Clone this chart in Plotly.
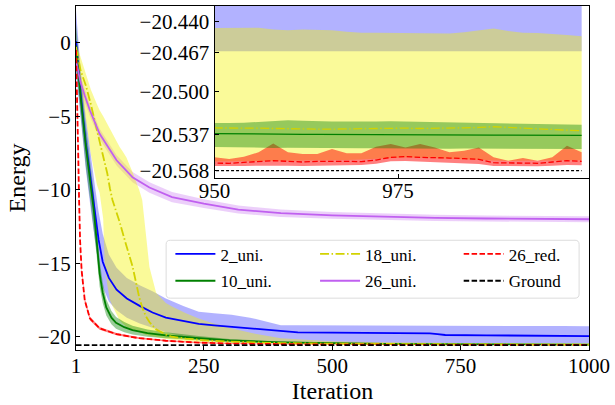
import plotly.graph_objects as go

# ---------------------------------------------------------------- data
GROUND = -20.568

# shared fine grid for the converged tail (shown in the zoomed panel)
TAIL = list(range(950, 1001, 2))

# 2_uni.
BLUE_IT = [1, 10, 20, 30, 38, 45, 53, 65, 80, 100, 125, 150, 176, 210, 240, 270, 304, 340, 370, 400,
           433, 500, 560, 620, 690, 705, 720, 800, 882, 950, 1000]
BLUE_MEAN = [0.1, -3.5, -6.8, -9.6, -11.6, -13.4, -14.9, -16.0, -16.8, -17.4, -17.9, -18.35, -18.7, -18.95,
             -19.12, -19.22, -19.32, -19.45, -19.55, -19.64, -19.70, -19.72, -19.73, -19.75, -19.77, -19.82,
             -19.88, -19.90, -19.91, -19.93, -19.96]
BLUE_HI = [2.2, -1.8, -5.0, -7.8, -9.8, -11.5, -13.0, -14.4, -15.3, -16.0, -16.5, -16.9, -17.4, -17.9, -18.3,
           -18.4, -18.5, -18.7, -18.95, -19.21, -19.22, -19.22, -19.23, -19.23, -19.24, -19.25, -19.25, -19.26,
           -19.27, -19.27, -19.28]
BLUE_LO = [-2.0, -5.2, -8.6, -11.4, -13.4, -15.2, -16.6, -17.6, -18.2, -18.7, -19.1, -19.4, -19.7, -20.0,
           -20.2, -20.3, -20.38, -20.41, -20.43, -20.44, -20.45, -20.455, -20.46, -20.462, -20.463, -20.464,
           -20.464, -20.465, -20.4655, -20.4656, -20.4658]

# 10_uni.
GREEN_IT = [1, 10, 20, 30, 36, 41, 47, 53, 60, 70, 79, 95, 111, 140, 176, 240, 300, 400, 500, 600, 700, 800, 900]
GREEN_MEAN = [-0.2, -3.7, -7.0, -9.8, -11.5, -13.4, -15.7, -17.0, -18.0, -18.7, -19.05, -19.35, -19.55, -19.75,
              -19.9, -20.1, -20.25, -20.38, -20.45, -20.49, -20.51, -20.525, -20.533]
GREEN_HI = [1.3, -2.3, -5.6, -8.5, -10.3, -12.4, -14.8, -16.3, -17.45, -18.25, -18.65, -19.0, -19.25, -19.5,
            -19.7, -19.95, -20.15, -20.32, -20.41, -20.46, -20.49, -20.51, -20.523]
GREEN_LO = [-1.7, -5.1, -8.4, -11.1, -12.7, -14.4, -16.6, -17.7, -18.55, -19.15, -19.45, -19.7, -19.85, -20.0,
            -20.1, -20.25, -20.35, -20.44, -20.49, -20.52, -20.53, -20.54, -20.543]
GREEN_MEAN_TAIL = [-20.5367, -20.5367, -20.5368, -20.5368, -20.5369, -20.5369, -20.5370, -20.5370, -20.5371,
                   -20.5371, -20.5372, -20.5372, -20.5373, -20.5373, -20.5374, -20.5374, -20.5375, -20.5375,
                   -20.5376, -20.5376, -20.5376, -20.5377, -20.5377, -20.5377, -20.5378, -20.5378]
GREEN_HI_TAIL = [-20.5276, -20.5273, -20.5270, -20.5262, -20.5250, -20.5248, -20.5252, -20.5257, -20.5259,
                 -20.5259, -20.5262, -20.5259, -20.5257, -20.5259, -20.5262, -20.5265, -20.5267, -20.5270,
                 -20.5273, -20.5273, -20.5276, -20.5279, -20.5282, -20.5282, -20.5285, -20.5287]
GREEN_LO_TAIL = [-20.5481, -20.5483, -20.5482, -20.5484, -20.5485, -20.5484, -20.5486, -20.5487, -20.5486,
                 -20.5488, -20.5489, -20.5488, -20.5490, -20.5489, -20.5490, -20.5491, -20.5492, -20.5491,
                 -20.5492, -20.5493, -20.5492, -20.5493, -20.5494, -20.5494, -20.5495, -20.5495]

# 18_uni.
YEL_IT = [1, 10, 20, 30, 42, 47, 54, 57, 62, 67, 72, 86, 92, 99, 111, 118, 124, 130, 137, 144,
          157, 176, 188, 215, 240, 260, 300, 350, 400, 500, 600, 700, 800, 900]
YEL_MEAN = [-0.3, -1.9, -2.9, -4.2, -6.0, -6.7, -7.8, -8.3, -8.9, -9.9, -10.7, -12.2, -13.0, -13.8, -15.2,
            -16.3, -17.3, -18.0, -18.6, -19.0, -19.5, -19.85, -20.0, -20.12, -20.2, -20.26, -20.33, -20.39,
            -20.43, -20.47, -20.5, -20.515, -20.525, -20.53]
YEL_HI = [0.0, -1.0, -2.0, -3.2, -4.2, -4.6, -5.0, -5.2, -5.5, -5.9, -6.2, -7.1, -7.4, -7.8, -8.8, -9.4,
          -10.0, -10.7, -13.0, -15.25, -17.0, -17.7, -17.95, -18.4, -18.75, -19.0, -19.4, -19.8, -20.1, -20.3,
          -20.38, -20.42, -20.44, -20.446]
YEL_LO = [-0.6, -2.8, -5.2, -7.6, -9.7, -10.2, -12.0, -15.2, -16.5, -17.5, -17.9, -18.9, -19.1, -19.3, -19.5,
          -19.6, -19.7, -19.78, -19.86, -19.93, -20.03, -20.15, -20.2, -20.3, -20.36, -20.39, -20.43, -20.46,
          -20.48, -20.51, -20.53, -20.545, -20.552, -20.556]
YEL_MEAN_TAIL = [-20.5310, -20.5310, -20.5313, -20.5316, -20.5319, -20.5322, -20.5324, -20.5324, -20.5324,
                 -20.5322, -20.5319, -20.5316, -20.5313, -20.5316, -20.5319, -20.5319, -20.5316, -20.5313,
                 -20.5310, -20.5304, -20.5310, -20.5316, -20.5322, -20.5327, -20.5333, -20.5339]
YEL_HI_TAIL = [-20.4457, -20.4451, -20.4457, -20.4457, -20.4471, -20.4477, -20.4471, -20.4471, -20.4477,
               -20.4491, -20.4500, -20.4500, -20.4500, -20.4500, -20.4502, -20.4505, -20.4505, -20.4494,
               -20.4480, -20.4463, -20.4485, -20.4500, -20.4502, -20.4508, -20.4519, -20.4528]
YEL_LO_TAIL = [-20.5602, -20.5603, -20.5600, -20.5598, -20.5597, -20.5596, -20.5596, -20.5594, -20.5590,
               -20.5588, -20.5584, -20.5578, -20.5570, -20.5568, -20.5570, -20.5574, -20.5580, -20.5584,
               -20.5590, -20.5596, -20.5598, -20.5596, -20.5597, -20.5594, -20.5590, -20.5592]

# 26_uni.
PUR_IT = [1, 5, 9, 18, 28, 47, 65, 80, 111, 144, 188, 250, 317, 400, 500, 600, 700, 800, 900, 1000]
PUR_MEAN = [-1.2, -1.9, -2.6, -3.6, -4.6, -6.2, -7.2, -8.0, -9.15, -9.85, -10.5, -10.95, -11.35, -11.6,
            -11.75, -11.85, -11.92, -11.96, -11.99, -12.01]
PUR_HI = [-0.7, -1.4, -2.1, -3.15, -4.2, -5.85, -6.85, -7.65, -8.8, -9.5, -10.15, -10.65, -11.08, -11.35,
          -11.52, -11.63, -11.71, -11.76, -11.79, -11.81]
PUR_LO = [-1.7, -2.4, -3.1, -4.05, -5.0, -6.55, -7.55, -8.35, -9.5, -10.2, -10.85, -11.25, -11.62, -11.85,
          -11.98, -12.07, -12.13, -12.16, -12.19, -12.21]

# 26_red.
RED_IT = [1, 3, 5, 7, 9, 12, 18, 28, 47, 80, 124, 176, 240, 300, 400, 500, 600, 700, 800, 900]
RED_MEAN = [-0.5, -3.0, -7.0, -10.7, -13.5, -15.5, -17.5, -18.75, -19.43, -19.82, -20.1, -20.27, -20.4, -20.46,
            -20.51, -20.535, -20.545, -20.552, -20.556, -20.559]
RED_HI = [-0.2, -2.7, -6.7, -10.4, -13.25, -15.3, -17.35, -18.63, -19.33, -19.74, -20.04, -20.22, -20.36,
          -20.43, -20.49, -20.525, -20.537, -20.546, -20.551, -20.554]
RED_LO = [-0.8, -3.3, -7.3, -11.0, -13.75, -15.7, -17.65, -18.87, -19.53, -19.90, -20.16, -20.32, -20.44,
          -20.49, -20.53, -20.545, -20.553, -20.558, -20.561, -20.563]
RED_MEAN_TAIL = [-20.5614, -20.5617, -20.5609, -20.5600, -20.5595, -20.5600, -20.5606, -20.5600, -20.5597,
                 -20.5600, -20.5603, -20.5589, -20.5566, -20.5560, -20.5566, -20.5572, -20.5572, -20.5577,
                 -20.5583, -20.5612, -20.5614, -20.5612, -20.5617, -20.5606, -20.5595, -20.5600]
RED_HI_TAIL = [-20.5566, -20.5580, -20.5560, -20.5523, -20.5447, -20.5523, -20.5538, -20.5538, -20.5495,
               -20.5532, -20.5532, -20.5475, -20.5452, -20.5481, -20.5452, -20.5481, -20.5523, -20.5509,
               -20.5481, -20.5566, -20.5595, -20.5572, -20.5595, -20.5566, -20.5467, -20.5523]
RED_LO_TAIL = [-20.5640, -20.5643, -20.5640, -20.5637, -20.5634, -20.5637, -20.5640, -20.5637, -20.5634,
               -20.5634, -20.5631, -20.5620, -20.5600, -20.5597, -20.5603, -20.5609, -20.5612, -20.5617,
               -20.5623, -20.5640, -20.5643, -20.5640, -20.5643, -20.5637, -20.5631, -20.5634]

X_TICKS = [1, 250, 500, 750, 1000]
Y_TICKS = [0, -5, -10, -15, -20]
INSET_X_TICKS = [950, 975]
INSET_Y_TICKS = [-20.440, -20.467, -20.500, -20.537, -20.568]
INSET_Y_TEXT = ["\u221220.440", "\u221220.467", "\u221220.500", "\u221220.537", "\u221220.568"]

# ---------------------------------------------------------------- series
series = {
    "2_uni.": dict(it=BLUE_IT, mean=BLUE_MEAN, hi=BLUE_HI, lo=BLUE_LO,
                   color="#0000ff", fill="rgba(0,0,255,0.3)", dash="solid"),
    "10_uni.": dict(it=GREEN_IT + TAIL, mean=GREEN_MEAN + GREEN_MEAN_TAIL,
                    hi=GREEN_HI + GREEN_HI_TAIL, lo=GREEN_LO + GREEN_LO_TAIL,
                    color="#008000", fill="rgba(0,128,0,0.4)", dash="solid"),
    "18_uni.": dict(it=YEL_IT + TAIL, mean=YEL_MEAN + YEL_MEAN_TAIL,
                    hi=YEL_HI + YEL_HI_TAIL, lo=YEL_LO + YEL_LO_TAIL,
                    color="#d2d200", fill="rgba(242,242,0,0.4)", dash="9px,2.5px,1.5px,2.5px"),
    "26_uni.": dict(it=PUR_IT, mean=PUR_MEAN, hi=PUR_HI, lo=PUR_LO,
                    color="#c060f0", fill="rgba(192,96,240,0.3)", dash="solid"),
    "26_red.": dict(it=RED_IT + TAIL, mean=RED_MEAN + RED_MEAN_TAIL,
                    hi=RED_HI + RED_HI_TAIL, lo=RED_LO + RED_LO_TAIL,
                    color="#ff0000", fill="rgba(255,0,0,0.5)", dash="5.5px,2.4px"),
}
BAND_ORDER = ["2_uni.", "26_uni.", "18_uni.", "26_red.", "10_uni."]
LINE_ORDER = ["2_uni.", "10_uni.", "18_uni.", "26_uni.", "26_red."]

# legend entries: three columns of two rows, one small legend per entry
LEGEND_SLOT = {"2_uni.": "legend", "10_uni.": "legend2", "18_uni.": "legend3",
               "26_uni.": "legend4", "26_red.": "legend5", "Ground": "legend6"}
COL_X = [0.184, 0.466, 0.746]
ROW_Y = [0.278, 0.200]

SERIF = "Liberation Serif"
fig = go.Figure()


def add_panel(xa, ya, legend, width):
    for name in BAND_ORDER:
        s = series[name]
        fig.add_trace(go.Scatter(x=s["it"], y=s["lo"], mode="lines", line=dict(width=0),
                                 xaxis=xa, yaxis=ya, showlegend=False, hoverinfo="skip"))
        fig.add_trace(go.Scatter(x=s["it"], y=s["hi"], mode="lines", line=dict(width=0),
                                 fill="tonexty", fillcolor=s["fill"],
                                 xaxis=xa, yaxis=ya, showlegend=False, hoverinfo="skip"))
    for name in LINE_ORDER:
        s = series[name]
        fig.add_trace(go.Scatter(x=s["it"], y=s["mean"], mode="lines", name=name,
                                 line=dict(color=s["color"], width=width, dash=s["dash"]),
                                 xaxis=xa, yaxis=ya, showlegend=legend, legend=LEGEND_SLOT[name]))
    fig.add_trace(go.Scatter(x=[1, 1000], y=[GROUND, GROUND], mode="lines", name="Ground",
                             line=dict(color="black", width=width, dash="5.5px,2.4px" if legend else "3px,2px"),
                             xaxis=xa, yaxis=ya, showlegend=legend, legend=LEGEND_SLOT["Ground"]))


add_panel("x", "y", True, 1.8)
add_panel("x2", "y2", False, 1.3)

tick_font = dict(family=SERIF, size=21, color="black")
axis_common = dict(showline=True, linecolor="black", linewidth=1.2, mirror=True,
                   ticks="inside", ticklen=4, tickcolor="black", showgrid=False, zeroline=False,
                   tickfont=tick_font)

legends = {}
for i, key in enumerate(["legend", "legend2", "legend3", "legend4", "legend5", "legend6"]):
    col, row = divmod(i, 2)
    legends[key] = dict(x=COL_X[col], y=ROW_Y[row], xanchor="left", yanchor="middle",
                        bgcolor="rgba(0,0,0,0)", borderwidth=0, itemwidth=40,
                        font=dict(family=SERIF, size=17, color="black"))

# rounded legend frame (paper coordinates)
x0, x1, y0, y1 = 0.1757, 0.9807, 0.1507, 0.319
rx, ry = 0.008, 0.012
frame = (f"M{x0 + rx},{y1} L{x1 - rx},{y1} Q{x1},{y1} {x1},{y1 - ry} L{x1},{y0 + ry} "
         f"Q{x1},{y0} {x1 - rx},{y0} L{x0 + rx},{y0} Q{x0},{y0} {x0},{y0 + ry} "
         f"L{x0},{y1 - ry} Q{x0},{y1} {x0 + rx},{y1} Z")

fig.update_layout(
    width=615, height=405,
    margin=dict(l=76, r=21, t=5, b=55),
    paper_bgcolor="white", plot_bgcolor="white",
    font=dict(family=SERIF, size=21, color="black"),
    shapes=[dict(type="path", path=frame, xref="paper", yref="paper", layer="above",
                 fillcolor="white", line=dict(color="#dcdcdc", width=1))],
    xaxis=dict(range=[1, 1000], tickvals=X_TICKS, domain=[0, 1], ticklabelstandoff=-3,
               title=dict(text="Iteration", font=dict(family=SERIF, size=24), standoff=4), **axis_common),
    yaxis=dict(range=[-20.9, 2.49], tickvals=Y_TICKS, domain=[0, 1],
               title=dict(text="Energy", font=dict(family=SERIF, size=24), standoff=5), **axis_common),
    xaxis2=dict(range=[950, 1001], tickvals=INSET_X_TICKS, domain=[0.270, 1], anchor="y2",
                ticklabelstandoff=-6, **axis_common),
    yaxis2=dict(range=[-20.574, -20.427], tickvals=INSET_Y_TICKS, ticktext=INSET_Y_TEXT,
                domain=[0.501, 1], anchor="x2", **axis_common),
    **legends,
)

fig.write_html("out.html")
